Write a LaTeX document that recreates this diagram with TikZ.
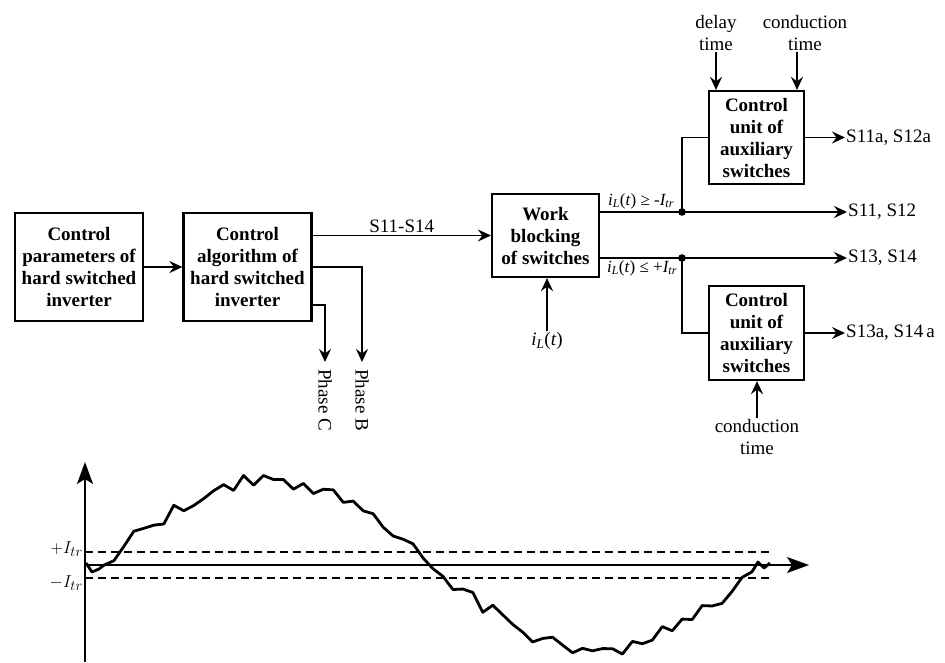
\documentclass[tikz,border=0pt]{standalone}
\usepackage{fontspec}
\setmainfont{Liberation Serif}
\usetikzlibrary{arrows.meta,calc}
\begin{document}
\begin{tikzpicture}[x=1pt,y=-1pt,
  blk/.style={draw,line width=2.2pt,align=center,inner sep=0pt,
    font=\fontsize{19}{22}\selectfont\bfseries},
  lbl/.style={align=center,inner sep=1pt,font=\fontsize{19}{22}\selectfont},
  mlbl/.style={inner sep=1pt,font=\fontsize{17}{20}\selectfont},
  con/.style={line width=1.9pt},
  arr/.style={con,-{Stealth[length=13pt,width=12pt,inset=4.5pt]}},
  axarr/.style={line width=1.6pt,-{Stealth[length=22pt,width=16pt,inset=5pt]}}]
\useasboundingbox (0,0) rectangle (945,662);
% blocks
\node[blk,minimum width=128,minimum height=108] (b1) at (79,267)
  {Control\\parameters of\\hard switched\\inverter};
\node[blk,minimum width=128,minimum height=108] (b2) at (247.5,267)
  {Control\\algorithm of\\hard switched\\inverter};
\node[blk,minimum width=107,minimum height=83] (wb) at (545.5,235.5)
  {Work\\blocking\\of switches};
\node[blk,minimum width=95,minimum height=93] (cu1) at (756.5,137.5)
  {Control\\unit of\\auxiliary\\switches};
\node[blk,minimum width=95,minimum height=94] (cu2) at (756.5,333)
  {Control\\unit of\\auxiliary\\switches};
% left connectors
\draw[arr] (b1.east) -- (b2.west);
\draw[arr] (b2.east |- wb.west) -- node[lbl,above=1pt] (s1114) {S11-S14} (wb.west);
\coordinate (phB) at (362,362);
\coordinate (phC) at (325,362);
\draw[arr] (b2.east) -| (phB);
\draw[arr] ([yshift=-38pt]b2.east) -| (phC);
\node[lbl,rotate=-90,anchor=west] (lC) at ([yshift=-6pt]phC) {Phase C};
\node[lbl,rotate=-90,anchor=west] (lB) at ([yshift=-6pt]phB) {Phase B};
% input iL(t)
\node[lbl] (iLt) at (547,341) {\textit{i\textsubscript{L}}(\textit{t})};
\draw[arr] (iLt.north) -- (iLt.north |- wb.south);
% outputs
\node[lbl,anchor=west] (o1) at (847,212) {S11, S12};
\node[lbl,anchor=west] (o2) at (847,258) {S13, S14};
\coordinate (d1) at (682,212);
\coordinate (d2) at (682,258);
\draw[arr] (wb.east |- o1.west) -- (o1.west);
\draw[arr] (wb.east |- o2.west) -- (o2.west);
\fill (d1) circle (3.8);
\fill (d2) circle (3.8);
\node[mlbl] (c1) at (641,201) {\textit{i\textsubscript{L}}(\textit{t}) ≥ -\textit{I\textsubscript{tr}}};
\node[mlbl] (c2) at (642,268) {\textit{i\textsubscript{L}}(\textit{t}) ≤ +\textit{I\textsubscript{tr}}};
\draw[con] (d1) |- (cu1.west);
\draw[con] (d2) |- (cu2.west);
\node[lbl,anchor=west] (o3) at (845,137.5) {S11a, S12a};
\node[lbl,anchor=west] (o4) at (845,333) {S13a, S14\,a};
\draw[arr] (cu1.east) -- (o3.west);
\draw[arr] (cu2.east) -- (o4.west);
\node[lbl] (dt) at (716,33) {delay\\time};
\node[lbl] (ct1) at (805,33) {conduction\\time};
\node[lbl] (ct2) at (757,437) {conduction\\time};
\draw[arr] (dt.south) -- (dt.south |- cu1.north);
\draw[arr] ([xshift=-8pt]ct1.south) -- ([xshift=-8pt]ct1.south |- cu1.north);
\draw[arr] (ct2.north) -- (ct2.north |- cu2.south);
% graph
\coordinate (O) at (85,565);
\coordinate (ytip) at (85,462);
\coordinate (xtip) at (809,565);
\draw[axarr] (85,662) -- (ytip);
\draw[axarr] (O) -- (xtip);
\draw[line width=1.4pt,dash pattern=on 8pt off 5pt] (85,552) -- (770,552);
\draw[line width=1.4pt,dash pattern=on 8pt off 5pt] (85,578) -- (770,578);
\node[mlbl,anchor=east,font=\fontsize{19}{22}\selectfont] (pI) at (84,549) {$+I_{tr}$};
\node[mlbl,anchor=east,font=\fontsize{19}{22}\selectfont] (mI) at (84,583) {$-I_{tr}$};
\pgfmathsetseed{12}
\draw[line width=2.8pt,line join=round]
  (86,563) -- (92,572) -- (99,569)
  -- plot[domain=104:752,samples=66]
     ({\x},{565-85*sin((\x-100)/662*360)+7.5*rand})
  -- (758,562) -- (764,568) -- (770,563);
\end{tikzpicture}
\end{document}
